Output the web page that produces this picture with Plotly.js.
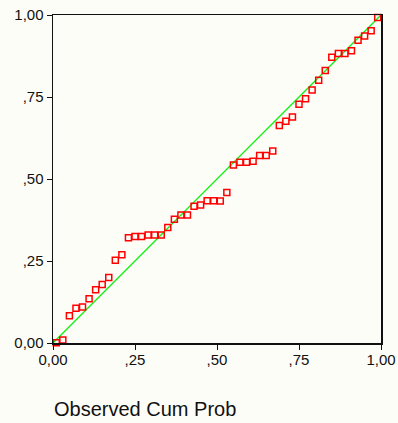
<!DOCTYPE html>
<html>
<head>
<meta charset="utf-8">
<script src="https://cdn.plot.ly/plotly-3.0.1.min.js"></script>
<style>html,body{margin:0;padding:0;background:#fdfdf8;}</style>
</head>
<body>
<div id="chart" style="width:398px;height:423px;"></div>
<script>
var observed = [0.01,0.03,0.05,0.07,0.09,0.11,0.13,0.15,0.17,0.19,0.21,0.23,0.25,0.27,0.29,0.31,0.33,0.35,0.37,0.39,0.41,0.43,0.45,0.47,0.49,0.51,0.53,0.55,0.57,0.59,0.61,0.63,0.65,0.67,0.69,0.71,0.73,0.75,0.77,0.79,0.81,0.83,0.85,0.87,0.89,0.91,0.93,0.95,0.97,0.99];
var expected = [0.001,0.009,0.083,0.106,0.110,0.135,0.162,0.178,0.200,0.252,0.269,0.321,0.325,0.325,0.329,0.329,0.329,0.352,0.377,0.390,0.390,0.417,0.421,0.434,0.434,0.433,0.459,0.543,0.551,0.551,0.554,0.572,0.572,0.585,0.663,0.676,0.689,0.728,0.745,0.771,0.801,0.831,0.871,0.883,0.883,0.891,0.923,0.936,0.952,0.992];
var diagonal = [0, 1];
var tickValues = [0, 0.25, 0.5, 0.75, 1];
var tickLabels = ["0,00", ",25", ",50", ",75", "1,00"];
var xTitle = "Observed Cum Prob";

var traces = [
  {x: diagonal, y: diagonal, mode: 'lines', line: {color: '#11ee11', width: 1.3}, hoverinfo: 'skip', showlegend: false, cliponaxis: false},
  {x: observed, y: expected, mode: 'markers', type: 'scatter', cliponaxis: false,
   marker: {symbol: 'square-open', size: 6, color: '#ff0000', line: {width: 1.5, color: '#ff0000'}}, showlegend: false}
];

var axisCommon = {
  range: [0, 1], tickvals: tickValues, ticktext: tickLabels,
  showgrid: false, zeroline: false, showline: true, mirror: true,
  linecolor: '#111', linewidth: 1.5, ticks: 'outside', ticklen: 5, tickwidth: 1, tickcolor: '#111',
  tickfont: {family: 'Liberation Sans, Arial, sans-serif', size: 15, color: '#111'},
  fixedrange: true
};

var layout = {
  width: 398, height: 423,
  margin: {l: 53, r: 17, t: 15, b: 80},
  paper_bgcolor: '#fdfdf8', plot_bgcolor: '#fdfdf8',
  xaxis: Object.assign({}, axisCommon, {ticklabelstandoff: -3}),
  yaxis: Object.assign({}, axisCommon),
  annotations: [{
    text: xTitle, xref: 'paper', yref: 'paper', x: -0.004, y: -0.2, xanchor: 'left', yanchor: 'middle',
    showarrow: false, font: {family: 'Liberation Sans, Arial, sans-serif', size: 20, color: '#111'}
  }]
};

Plotly.newPlot('chart', traces, layout, {displayModeBar: false, staticPlot: true});
</script>
</body>
</html>
